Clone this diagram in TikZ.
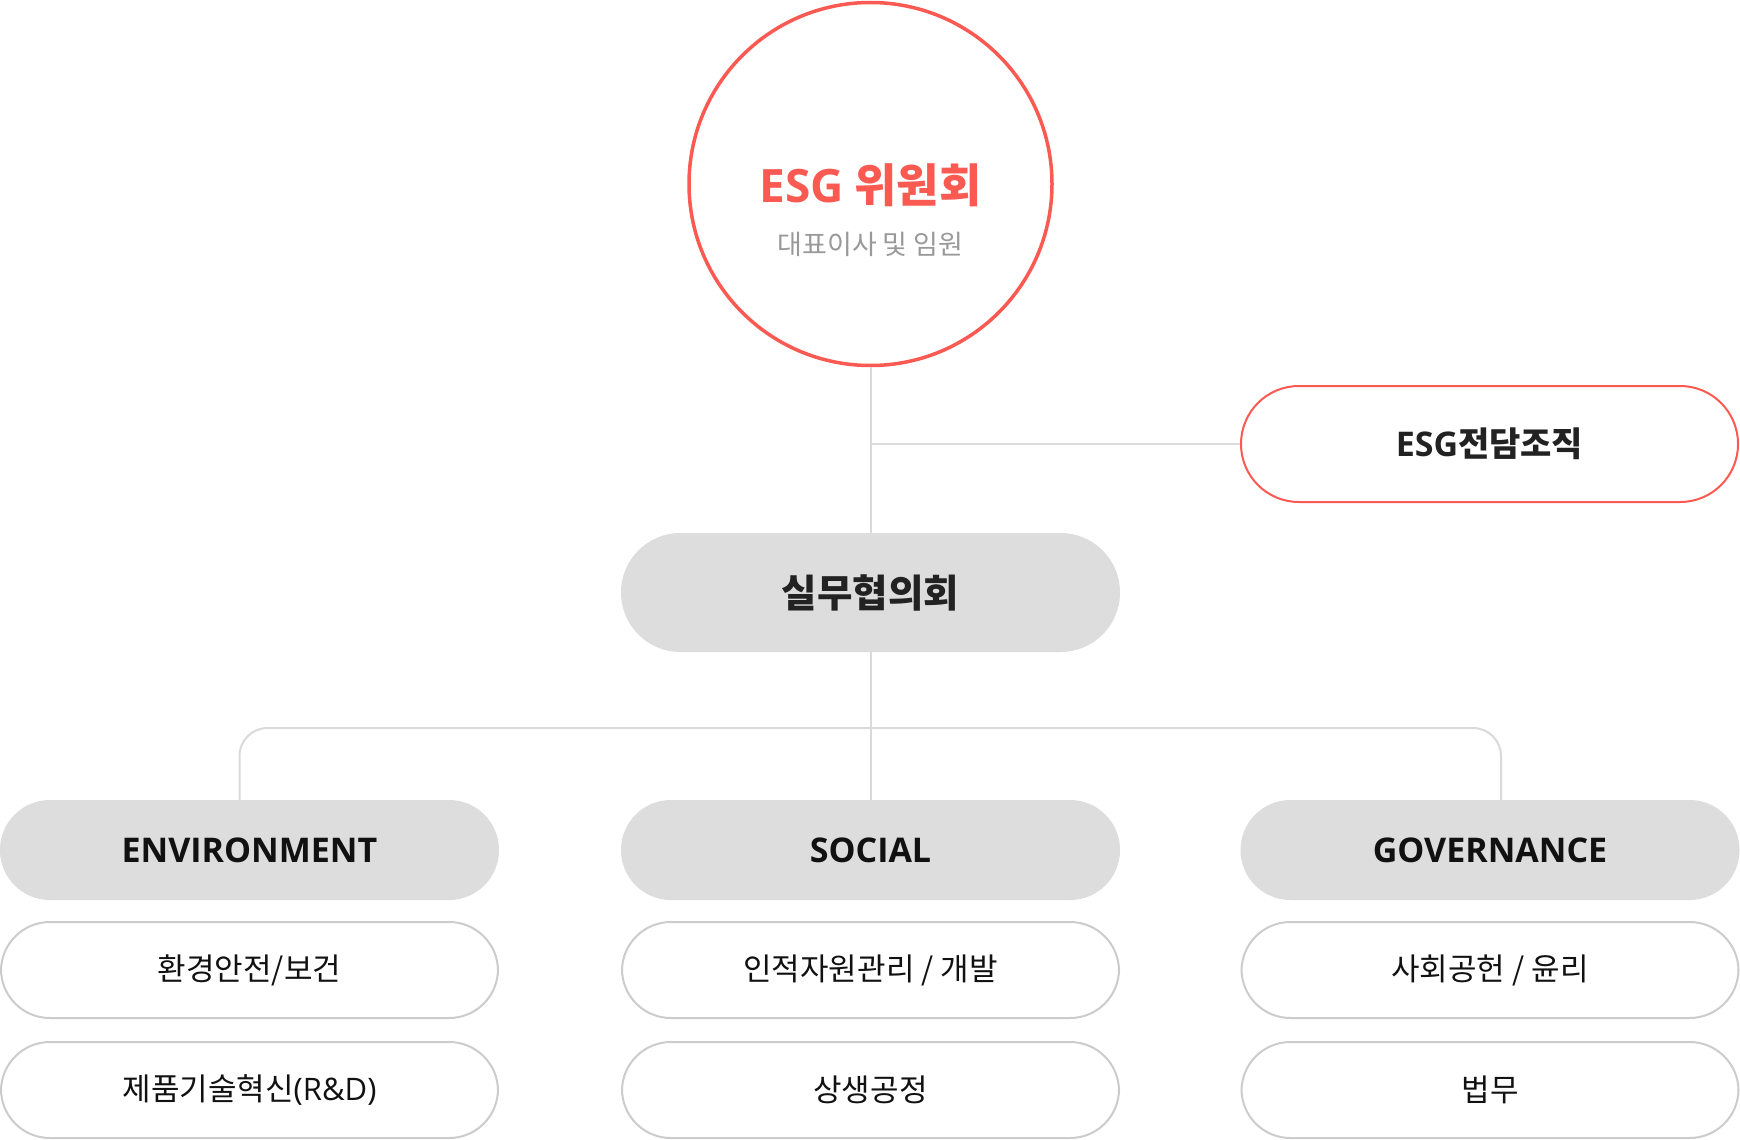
\documentclass[tikz,border=0pt]{standalone}
\usepackage{fontspec}
\setmainfont{Noto Sans CJK KR}
\newfontfamily\lat{Open Sans}
\definecolor{esgred}{RGB}{250,90,82}
\definecolor{boxgray}{RGB}{221,221,221}
\definecolor{linegray}{RGB}{218,218,218}
\definecolor{itemline}{RGB}{204,204,204}
\definecolor{subgray}{RGB}{153,153,153}
\definecolor{darktext}{RGB}{34,34,34}
\definecolor{blacktext}{RGB}{17,17,17}
\tikzset{
  conn/.style={draw=linegray, line width=2},
  catbox/.style={fill=boxgray, draw=none, rounded corners=49.9, minimum width=499, minimum height=100, inner sep=0, text=blacktext, font=\fontsize{34}{40}\selectfont\bfseries},
  itembox/.style={fill=white, draw=itemline, line width=2, rounded corners=48.9, minimum width=497, minimum height=96, inner sep=0, text=blacktext, font=\fontsize{31}{36}\selectfont},
  headbox/.style={fill=boxgray, draw=none, rounded corners=59.4, minimum width=499, minimum height=119, inner sep=0, text=darktext, font=\fontsize{38.5}{44}\selectfont\bfseries},
  orgbox/.style={fill=white, draw=esgred, line width=2, rounded corners=57.9, minimum width=497, minimum height=116, inner sep=0, text=darktext, font=\fontsize{34}{40}\selectfont\bfseries}
}
\begin{document}
\begin{tikzpicture}[x=1pt,y=-1pt]
\useasboundingbox[fill=white] (0,0) rectangle (1740,1140);
% top circle
\node[circle, draw=esgred, line width=3.5, fill=white, minimum size=363, inner sep=0] (top) at (870.5,184) {};
\node[anchor=base, text=esgred, font=\fontsize{46}{50}\selectfont\bfseries] (title) at (870.5,202) {{\lat\bfseries ESG} 위원회};
\node[anchor=base, text=subgray, font=\fontsize{27}{30}\selectfont] (sub) at (870.5,254) {대표이사 및 임원};
% ESG org
\node[orgbox] (org) at (1489.5,444) {{\lat\bfseries ESG}전담조직};
% council
\node[headbox] (council) at (870.5,592.5) {실무협의회};
% categories
\node[catbox] (env) at (249.5,850) {\lat\bfseries ENVIRONMENT};
\node[catbox] (soc) at (870.5,850) {\lat\bfseries SOCIAL};
\node[catbox] (gov) at (1490,850) {\lat\bfseries GOVERNANCE};
% items
\node[itembox] (e1) at (249.5,970) {환경안전/보건};
\node[itembox] (e2) at (249.5,1090) {제품기술혁신{\lat (R\&D)}};
\node[itembox] (s1) at (870.5,970) {인적자원관리 / 개발};
\node[itembox] (s2) at (870.5,1090) {상생공정};
\node[itembox] (g1) at (1490,970) {사회공헌 / 윤리};
\node[itembox] (g2) at (1490,1090) {법무};
% connectors
\coordinate (bar) at (870.5,728);
\draw[conn] (top.south) -- (council.north);
\draw[conn] (council.north |- org.west) -- (org.west);
\draw[conn] (council.south) -- (soc.north);
\draw[conn, rounded corners=28] ([xshift=-10]env.north) |- (bar) -| ([xshift=11]gov.north);
\end{tikzpicture}
\end{document}
